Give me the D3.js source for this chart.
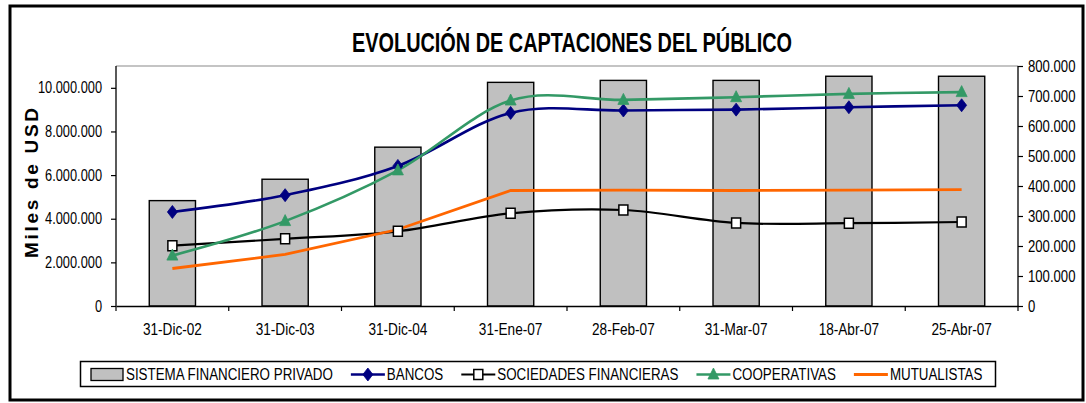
<!DOCTYPE html>
<html>
<head>
<meta charset="utf-8">
<script src="https://cdn.jsdelivr.net/npm/d3@7"></script>
<style>
  body { margin: 0; background: #fff; }
  text { font-family: "Liberation Sans", Arial, sans-serif; fill: #000; }
</style>
</head>
<body>
<div id="chart"></div>
<script>
// values
const categories = ["31-Dic-02", "31-Dic-03", "31-Dic-04", "31-Ene-07", "28-Feb-07", "31-Mar-07", "18-Abr-07", "25-Abr-07"];
const sistema = [4830000, 5810000, 7280000, 10250000, 10340000, 10340000, 10530000, 10530000];
const bancos = [4310000, 5080000, 6420000, 8850000, 8960000, 9000000, 9110000, 9200000];
const sociedades = [201000, 224000, 249000, 309000, 320000, 277000, 276000, 280000];
const cooperativas = [168000, 283000, 452000, 685000, 687000, 696000, 707000, 713000];
const mutualistas = [125000, 172000, 255000, 385000, 386000, 385000, 386000, 388000];
const leftTicks = [0, 2000000, 4000000, 6000000, 8000000, 10000000];
const rightTicks = [0, 100000, 200000, 300000, 400000, 500000, 600000, 700000, 800000];
const legendLabels = ["SISTEMA FINANCIERO PRIVADO", "BANCOS", "SOCIEDADES FINANCIERAS", "COOPERATIVAS", "MUTUALISTAS"];

const width = 1086, height = 403;
const plot = {left: 116, right: 1018, top: 66, bottom: 306};

const fmt = d3.formatLocale({decimal: ",", thousands: ".", grouping: [3], currency: ["$", ""]}).format(",d");

function condense(sel, f) {
    sel.each(function() {
        let w = this.getComputedTextLength();
        d3.select(this).attr("textLength", w * f).attr("lengthAdjust", "spacingAndGlyphs");
    });
}

let svg = d3.select("#chart").append("svg")
    .attr("width", width)
    .attr("height", height);

svg.append("rect").attr("width", width).attr("height", height).attr("fill", "#fff");

// outer frame
svg.append("rect")
    .attr("x", 10).attr("y", 6).attr("width", 1073).attr("height", 394)
    .attr("fill", "none").attr("stroke", "#000").attr("stroke-width", 3);

svg.append("text")
    .attr("x", 572).attr("y", 52)
    .attr("text-anchor", "middle")
    .attr("font-size", 27).attr("font-weight", "bold")
    .attr("textLength", 440).attr("lengthAdjust", "spacingAndGlyphs")
    .text("EVOLUCIÓN DE CAPTACIONES DEL PÚBLICO");

svg.append("text")
    .attr("transform", "translate(38,183) rotate(-90)")
    .attr("text-anchor", "middle")
    .attr("font-size", 19).attr("font-weight", "bold")
    .attr("textLength", 150).attr("lengthAdjust", "spacing")
    .text("Miles de USD");

let x = d3.scaleBand().domain(categories).range([plot.left, plot.right])
    .paddingInner(0.59).paddingOuter(0.295);
let xc = d => x(d) + x.bandwidth() / 2;
let yL = d3.scaleLinear().domain([0, 11000000]).range([plot.bottom, plot.top]);
let yR = d3.scaleLinear().domain([0, 800000]).range([plot.bottom, plot.top]);

// plot area top border
svg.append("line")
    .attr("x1", plot.left).attr("x2", plot.right)
    .attr("y1", plot.top).attr("y2", plot.top)
    .attr("stroke", "#8a8a8a").attr("stroke-width", 1.2);

// bars
svg.append("g").selectAll("rect")
    .data(sistema)
    .enter().append("rect")
    .attr("x", (d, i) => x(categories[i]))
    .attr("width", x.bandwidth())
    .attr("y", d => yL(d))
    .attr("height", d => yL(0) - yL(d))
    .attr("fill", "#c0c0c0")
    .attr("stroke", "#000")
    .attr("stroke-width", 1.4);

// axes
let axL = svg.append("g").attr("transform", "translate(" + plot.left + ",0)")
    .call(d3.axisLeft(yL).tickValues(leftTicks).tickFormat(fmt).tickSize(5).tickSizeOuter(0).tickPadding(9));
let axR = svg.append("g").attr("transform", "translate(" + plot.right + ",0)")
    .call(d3.axisRight(yR).tickValues(rightTicks).tickFormat(fmt).tickSize(5).tickSizeOuter(0).tickPadding(5));
let axB = svg.append("g").attr("transform", "translate(0," + plot.bottom + ")")
    .call(d3.axisBottom(x).tickSize(0).tickPadding(18));

for (let ax of [axL, axR, axB]) {
    ax.select(".domain").attr("stroke", "#000").attr("stroke-width", 1.3);
    ax.selectAll(".tick line").attr("stroke", "#000").attr("stroke-width", 1.2);
    ax.selectAll("text").attr("font-size", 16).attr("font-family", null);
}
axL.select(".domain").attr("d", "M0," + plot.top + "V" + plot.bottom);
axR.select(".domain").attr("d", "M0," + plot.top + "V" + plot.bottom);
condense(axL.selectAll("text"), 0.8);
condense(axR.selectAll("text"), 0.82);
condense(axB.selectAll("text"), 0.85);

// category boundary ticks
axB.selectAll("line.bound")
    .data(d3.range(categories.length + 1))
    .enter().append("line")
    .attr("class", "bound")
    .attr("x1", i => plot.left + i * x.step())
    .attr("x2", i => plot.left + i * x.step())
    .attr("y1", 0).attr("y2", 5)
    .attr("stroke", "#000").attr("stroke-width", 1.2);

// lines
let smooth = d3.curveCatmullRom.alpha(0);
let series = [
    {values: bancos, scale: yL, color: "#000080", curve: smooth, marker: "diamond", width: 2.6},
    {values: sociedades, scale: yR, color: "#000000", curve: smooth, marker: "square", width: 2.2},
    {values: cooperativas, scale: yR, color: "#339966", curve: smooth, marker: "triangle", width: 2.6},
    {values: mutualistas, scale: yR, color: "#ff6600", curve: d3.curveLinear, marker: null, width: 2.8},
];

function markerPath(type) {
    if (type == "diamond") return "M0,-6.5L5,0L0,6.5L-5,0Z";
    if (type == "triangle") return "M0,-6.5L5.5,4.5L-5.5,4.5Z";
    if (type == "square") return "M-4.5,-5H4.5V5H-4.5Z";
    return null;
}

function drawMarker(g, type, color) {
    let p = g.append("path").attr("d", markerPath(type));
    if (type == "square") p.attr("fill", "#fff").attr("stroke", "#000").attr("stroke-width", 1.5);
    else p.attr("fill", color).attr("stroke", color).attr("stroke-width", 0.8);
}

for (let s of series) {
    let line = d3.line()
        .x((d, i) => xc(categories[i]))
        .y(d => s.scale(d))
        .curve(s.curve);
    svg.append("path")
        .datum(s.values)
        .attr("d", line)
        .attr("fill", "none")
        .attr("stroke", s.color)
        .attr("stroke-width", s.width);
}
for (let s of series) {
    if (!s.marker) continue;
    svg.append("g").selectAll("g")
        .data(s.values)
        .enter().append("g")
        .attr("transform", (d, i) => "translate(" + xc(categories[i]) + "," + s.scale(d) + ")")
        .each(function() { drawMarker(d3.select(this), s.marker, s.color); });
}

// legend
let legend = svg.append("g");
legend.append("rect")
    .attr("x", 80.5).attr("y", 361.5).attr("width", 915).attr("height", 25)
    .attr("fill", "#fff").attr("stroke", "#000").attr("stroke-width", 1.5);

let cx = 91;
let ly = 374.5;
legendLabels.forEach((label, i) => {
    let tx;
    if (i == 0) {
        legend.append("rect")
            .attr("x", cx).attr("y", ly - 6).attr("width", 32).attr("height", 12)
            .attr("fill", "#c0c0c0").attr("stroke", "#000").attr("stroke-width", 1.3);
        tx = cx + 35;
    } else {
        let s = series[i - 1];
        legend.append("line")
            .attr("x1", cx).attr("x2", cx + 34).attr("y1", ly).attr("y2", ly)
            .attr("stroke", s.color).attr("stroke-width", s.width);
        if (s.marker) {
            let g = legend.append("g").attr("transform", "translate(" + (cx + 17) + "," + ly + ")");
            drawMarker(g, s.marker, s.color);
        }
        tx = cx + 36;
    }
    let t = legend.append("text")
        .attr("x", tx).attr("y", ly).attr("dy", "0.36em")
        .attr("font-size", 16)
        .text(label);
    condense(t, 0.835);
    cx = tx + +t.attr("textLength") + 18;
});
</script>
</body>
</html>
